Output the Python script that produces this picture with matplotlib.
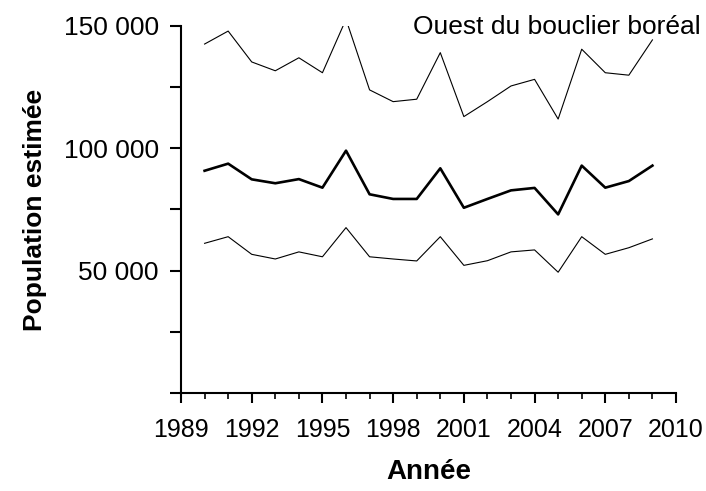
import numpy as np
import matplotlib
matplotlib.use("Agg")
import matplotlib.pyplot as plt
from matplotlib.ticker import MultipleLocator, FuncFormatter

years = list(range(1990, 2010))
upper = [142500, 147800, 135200, 131600, 136900, 130800, 152600, 123800, 119000, 120000,
         139000, 112900, 119000, 125400, 128100, 111900, 140400, 130800, 129800, 144200]
estimate = [90800, 93700, 87300, 85700, 87400, 83900, 99000, 81200, 79300, 79300,
            91800, 75700, 79300, 82800, 83800, 73000, 92900, 83900, 86600, 92900]
lower = [61200, 63900, 56700, 54800, 57700, 55700, 67600, 55700, 54800, 54000,
         63900, 52200, 54100, 57700, 58500, 49400, 63900, 56700, 59400, 63000]

plt.rcParams['font.family'] = ['Liberation Sans', 'DejaVu Sans']
fig = plt.figure(figsize=(7.06, 4.91), dpi=100)
ax = fig.add_axes([0.2564, 0.199, 0.7011, 0.7487])

ax.plot(years, upper, color="black", lw=0.8)
ax.plot(years, estimate, color="black", lw=1.9)
ax.plot(years, lower, color="black", lw=0.8)

ax.set_xlim(1989, 2010)
ax.set_ylim(0, 150000)
for s in ["top", "right"]:
    ax.spines[s].set_visible(False)
for s in ["left", "bottom"]:
    ax.spines[s].set_linewidth(1.5)

ax.xaxis.set_major_locator(MultipleLocator(3))
ax.xaxis.set_minor_locator(MultipleLocator(1))
ax.yaxis.set_major_locator(MultipleLocator(50000))
ax.yaxis.set_minor_locator(MultipleLocator(25000))
ax.yaxis.set_major_formatter(FuncFormatter(lambda v, p: "" if v == 0 else f"{int(v):,}".replace(",", " ")))
ax.tick_params(axis="x", which="major", length=7, width=1.5, labelsize=18, pad=11)
ax.tick_params(axis="y", which="both", length=8, width=1.5, labelsize=19, pad=8)
ax.tick_params(axis="x", which="minor", length=4, width=1.2)

ax.set_ylabel("Population estimée", fontsize=19, fontweight="bold", labelpad=12)
ax.set_xlabel("Année", fontsize=20, fontweight="bold", labelpad=12)

fig.text(0.992, 0.945, "Ouest du bouclier boréal", ha="right", va="center", fontsize=19)

fig.savefig("out.png", dpi=100)
